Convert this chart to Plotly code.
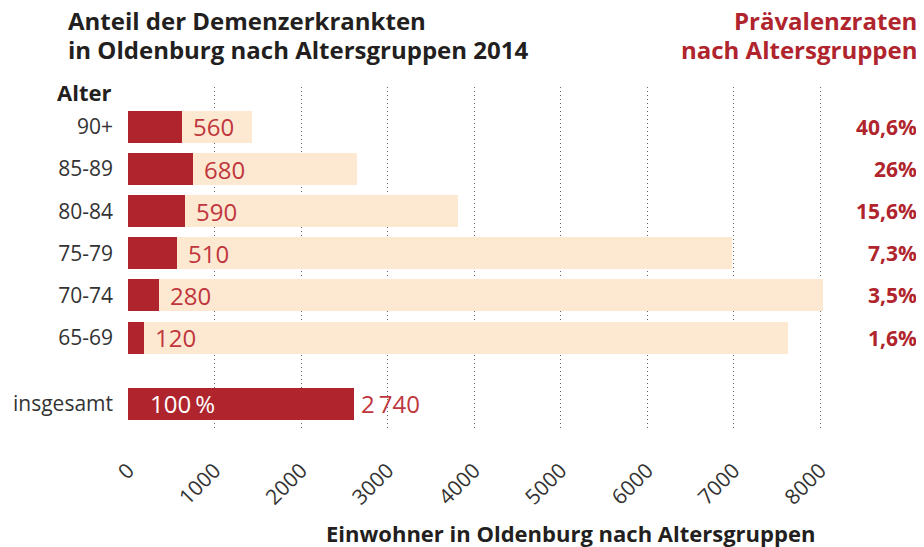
import plotly.graph_objects as go

# ---- data ----
age_groups = ["90+", "85-89", "80-84", "75-79", "70-74", "65-69"]
residents = [1435, 2648, 3814, 6980, 8030, 7625]          # light bars (total residents)
dementia_bar = [627, 754, 662, 569, 363, 188]             # dark bars as drawn
dementia_labels = ["560", "680", "590", "510", "280", "120"]
prevalence = ["40,6%", "26%", "15,6%", "7,3%", "3,5%", "1,6%"]
total_label = "insgesamt"
total_bar = 2613
total_value_label = "2\u2009740"
total_share_label = "100\u2009%"
x_ticks = [0, 1000, 2000, 3000, 4000, 5000, 6000, 7000, 8000]
title_lines = ["Anteil der Demenzerkrankten", "in Oldenburg nach Altersgruppen 2014"]
right_title_lines = ["Prävalenzraten", "nach Altersgruppen"]

# row positions (top to bottom)
row_y = [5, 4, 3, 2, 1, 0]
total_y = -1.57

DARK = "#b0252d"
LIGHT = "#fde9d2"
VAL_RED = "#c0363d"
TXT = "#231f20"
FONT = "Open Sans"

fig = go.Figure()
fig.add_trace(go.Bar(
    x=residents, y=row_y, orientation="h", width=0.76,
    marker=dict(color=LIGHT, line=dict(width=0)), hoverinfo="skip", showlegend=False))
fig.add_trace(go.Bar(
    x=dementia_bar + [total_bar], y=row_y + [total_y], orientation="h", width=0.76,
    marker=dict(color=DARK, line=dict(width=0)), hoverinfo="skip", showlegend=False))

annotations = []
for y, xv, lab in zip(row_y, dementia_bar, dementia_labels):
    annotations.append(dict(x=xv, y=y, xref="x", yref="y", text=lab, showarrow=False,
                            xanchor="left", xshift=9, font=dict(family=FONT, size=24, color=VAL_RED)))
annotations.append(dict(x=total_bar, y=total_y, xref="x", yref="y", text=total_value_label,
                        showarrow=False, xanchor="left", xshift=5,
                        font=dict(family=FONT, size=24, color=VAL_RED)))
annotations.append(dict(x=0, y=total_y, xref="x", yref="y", text=total_share_label,
                        showarrow=False, xanchor="left", xshift=20,
                        font=dict(family=FONT, size=24, color="white")))
for y, p in zip(row_y, prevalence):
    annotations.append(dict(x=1.1017, y=y, xref="paper", yref="y", text="<b>" + p + "</b>",
                            showarrow=False, xanchor="right",
                            font=dict(family=FONT, size=21, color=DARK)))
# titles (one annotation per line)
for ly, lt, rt in zip([1.193, 1.111], title_lines, right_title_lines):
    annotations.append(dict(x=-0.0864, y=ly, xref="paper", yref="paper", yanchor="middle",
                            text="<b>" + lt + "</b>", showarrow=False, xanchor="left",
                            font=dict(family=FONT, size=24, color=TXT)))
    annotations.append(dict(x=1.1017, y=ly, xref="paper", yref="paper", yanchor="middle",
                            text="<b>" + rt + "</b>", showarrow=False, xanchor="right",
                            font=dict(family=FONT, size=24, color=DARK)))
annotations.append(dict(x=-0.021, y=5.82, xref="paper", yref="y", text="<b>Alter</b>",
                        showarrow=False, xanchor="right",
                        font=dict(family=FONT, size=22, color=TXT)))
annotations.append(dict(x=0.9596, y=-0.304, xref="paper", yref="paper", yanchor="middle",
                        text="<b>Einwohner in Oldenburg nach Altersgruppen</b>",
                        showarrow=False, xanchor="right",
                        font=dict(family=FONT, size=22, color=TXT)))

# the page body adds an 8px offset, so the figure is 8px smaller on each axis
fig.update_layout(
    width=916, height=539,
    margin=dict(l=120, r=78, t=79, b=118),
    paper_bgcolor="white", plot_bgcolor="white",
    barmode="overlay", bargap=0,
    font=dict(family=FONT, color=TXT),
    annotations=annotations,
    xaxis=dict(range=[0, 8300], tickvals=x_ticks, ticktext=[str(v) for v in x_ticks],
               tickangle=-45, showgrid=True, gridcolor="#666666", griddash="1px,3px", gridwidth=1,
               zeroline=False, showline=False, ticks="", ticklabelstandoff=24, automargin=False,
               tickfont=dict(family=FONT, size=21, color="#333333"), fixedrange=True),
    yaxis=dict(range=[-2.171, 5.948], tickvals=row_y + [total_y],
               ticktext=age_groups + [total_label], showgrid=False, zeroline=False,
               showline=False, ticks="", ticklabelstandoff=14, automargin=False,
               tickfont=dict(family=FONT, size=21, color="#333333"), fixedrange=True),
)

fig.write_html("out.html")
